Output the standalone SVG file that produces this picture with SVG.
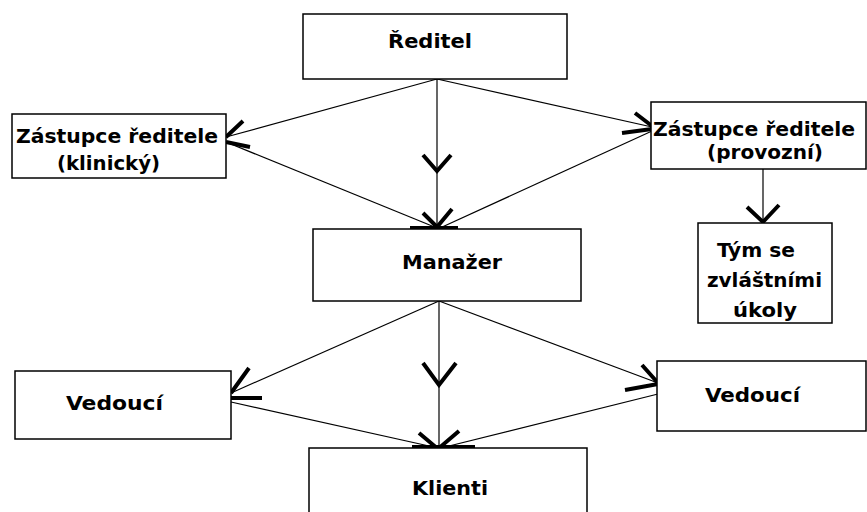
<svg xmlns="http://www.w3.org/2000/svg" width="867" height="512" viewBox="0 0 867 512">
<style>
.box{fill:#fff;stroke:#000;stroke-width:1.5}
.lbl{font-family:"DejaVu Sans Condensed","DejaVu Sans","Liberation Sans",sans-serif;font-weight:bold;font-size:20px;fill:#000}
.ln{stroke:#000;stroke-width:1.2;fill:none}
.ah{stroke:#000;stroke-width:4;fill:none;stroke-linecap:butt;stroke-linejoin:miter}
</style>
<rect width="867" height="512" fill="#fff"/>
<g id="connectors">
<line class="ln" x1="437" y1="79" x2="226" y2="137"/>
<path class="ah" d="M243,121 L226,137 M226,142 L250,147"/>
<line class="ln" x1="437" y1="79" x2="652" y2="127"/>
<path class="ah" d="M635,113 L652,126 M622,133 L652,129"/>
<line class="ln" x1="437" y1="79" x2="437" y2="229"/>
<path class="ah" d="M423,155 L437,171 L451,155"/>
<path class="ah" d="M423,213 L437,227 L452,209 M410,228 L458,228"/>
<line class="ln" x1="226" y1="142" x2="437" y2="228"/>
<line class="ln" x1="652" y1="131" x2="440" y2="228"/>
<line class="ln" x1="763" y1="169" x2="763" y2="223"/>
<path class="ah" d="M747,207 L763,222 L779,205"/>
<line class="ln" x1="439" y1="301" x2="231" y2="393"/>
<path class="ah" d="M249,368 L231,393 M231,398 L262,398"/>
<line class="ln" x1="439" y1="301" x2="658" y2="383"/>
<path class="ah" d="M642,365 L658,383 M625,390 L658,384"/>
<line class="ln" x1="439" y1="301" x2="439" y2="448"/>
<path class="ah" d="M423,363 L439,385 L456,363"/>
<path class="ah" d="M419,433 L438,449 L459,431 M412,447 L475,447"/>
<line class="ln" x1="231" y1="402" x2="438" y2="448"/>
<line class="ln" x1="658" y1="394" x2="445" y2="447"/>
</g>
<g id="reditel">
<rect class="box" x="303" y="14" width="264" height="65"/>
<text class="lbl" x="388" y="48" textLength="84" lengthAdjust="spacingAndGlyphs">Ředitel</text>
</g>
<g id="zastupce-klinicky">
<rect class="box" x="12" y="114" width="214" height="64"/>
<text class="lbl" x="16" y="143" textLength="202" lengthAdjust="spacingAndGlyphs">Zástupce ředitele</text>
<text class="lbl" x="57" y="170" textLength="103" lengthAdjust="spacingAndGlyphs">(klinický)</text>
</g>
<g id="zastupce-provozni">
<rect class="box" x="651" y="102" width="215" height="67"/>
<text class="lbl" x="653" y="136" textLength="202" lengthAdjust="spacingAndGlyphs">Zástupce ředitele</text>
<text class="lbl" x="707" y="159" textLength="116" lengthAdjust="spacingAndGlyphs">(provozní)</text>
</g>
<g id="manazer">
<rect class="box" x="313" y="229" width="268" height="72"/>
<text class="lbl" x="402" y="269" textLength="100" lengthAdjust="spacingAndGlyphs">Manažer</text>
</g>
<g id="tym">
<rect class="box" x="698" y="223" width="134" height="100"/>
<text class="lbl" x="717" y="257" textLength="78" lengthAdjust="spacingAndGlyphs">Tým se</text>
<text class="lbl" x="707" y="287" textLength="115" lengthAdjust="spacingAndGlyphs">zvláštními</text>
<text class="lbl" x="733" y="317" textLength="64" lengthAdjust="spacingAndGlyphs">úkoly</text>
</g>
<g id="vedouci-levy">
<rect class="box" x="15" y="371" width="216" height="68"/>
<text class="lbl" x="66" y="410" textLength="97" lengthAdjust="spacingAndGlyphs">Vedoucí</text>
</g>
<g id="vedouci-pravy">
<rect class="box" x="657" y="361" width="209" height="70"/>
<text class="lbl" x="705" y="402" textLength="95" lengthAdjust="spacingAndGlyphs">Vedoucí</text>
</g>
<g id="klienti">
<rect class="box" x="309" y="448" width="278" height="80"/>
<text class="lbl" x="412" y="495" textLength="76" lengthAdjust="spacingAndGlyphs">Klienti</text>
</g>
</svg>
